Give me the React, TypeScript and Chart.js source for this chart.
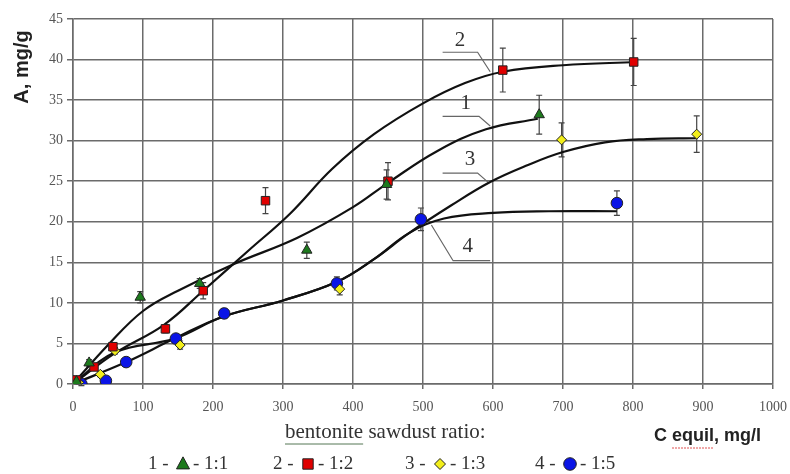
import React, { useEffect, useRef } from "react";
import { Chart, registerables } from "chart.js";

Chart.register(...registerables);

// ---- measured points ----
const s1X = [5, 23, 96, 181, 334, 448, 666];
const s1Y = [0.3, 2.6, 10.7, 12.4, 16.5, 24.6, 33.2];
const s1Err = [0.3, 0.4, 0.7, 0.6, 1.0, 1.8, 2.4];

const s2X = [5, 30, 57, 132, 186, 275, 450, 614, 801];
const s2Y = [0.5, 2.1, 4.6, 6.8, 11.5, 22.6, 25.0, 38.7, 39.7];
const s2Err = [0.3, 0.4, 0.5, 0.5, 1.0, 1.6, 2.3, 2.7, 2.9];

const s3X = [8, 39, 60, 153, 381, 698, 891];
const s3Y = [0.2, 1.2, 4.1, 4.8, 11.7, 30.1, 30.8];
const s3Err = [0.2, 0.3, 0.4, 0.5, 0.7, 2.1, 2.25];

const s4X = [12, 47, 76, 147, 216, 377, 497, 777];
const s4Y = [0.0, 0.4, 2.7, 5.6, 8.7, 12.4, 20.3, 22.3];
const s4Err = [0.2, 0.3, 0.4, 0.5, 0.6, 0.8, 1.4, 1.5];

// ---- fitted curves ----
const c1X = [0, 50, 100, 150, 230, 320, 400, 450, 520, 590, 664];
const c1Y = [0, 4.8, 9.0, 11.5, 14.8, 18.0, 21.8, 24.8, 28.7, 31.4, 32.7];

const c2X = [0, 60, 130, 186, 250, 310, 370, 430, 500, 560, 614, 700, 805];
const c2Y = [0, 3.8, 7.3, 11.5, 16.4, 21.0, 26.5, 30.8, 34.6, 37.1, 38.5, 39.3, 39.7];

const c3X = [0, 60, 145, 214, 300, 377, 430, 480, 540, 596, 650, 700, 760, 820, 891];
const c3Y = [0, 3.9, 5.6, 8.3, 10.3, 12.6, 15.4, 18.6, 22.0, 24.9, 27.0, 28.6, 29.8, 30.2, 30.3];

const c4X = [0, 76, 145, 214, 300, 377, 430, 480, 530, 600, 680, 777];
const c4Y = [0, 2.7, 5.6, 8.3, 10.3, 12.6, 15.4, 18.6, 20.4, 21.1, 21.3, 21.3];

// ---- curve labels and leader lines ----
const curveLabels = ["1", "2", "3", "4"];
const labelX = [561, 553, 567, 564];
const labelY = [34.6, 42.3, 27.7, 16.9];
const leader1X = [528, 580, 596];
const leader1Y = [33.0, 33.0, 31.8];
const leader2X = [528, 578, 596];
const leader2Y = [40.9, 40.9, 38.5];
const leader3X = [528, 578, 594];
const leader3Y = [26.0, 26.0, 24.8];
const leader4X = [512, 543, 596];
const leader4Y = [19.6, 15.2, 15.2];

// ---- axes / legend text ----
const xTicks = [0, 100, 200, 300, 400, 500, 600, 700, 800, 900, 1000];
const yTicks = [0, 5, 10, 15, 20, 25, 30, 35, 40, 45];
const yTitle = "A, mg/g";
const xTitle = "C equil, mg/l";
const legendCaption = "bentonite sawdust ratio:";
const legendNums = ["1", "2", "3", "4"];
const legendRatios = ["1:1", "1:2", "1:3", "1:5"];

const colors = ["#1d7a1d", "#e00000", "#f2ee1a", "#0a14e6"];
const shapes = ["triangle", "rect", "rectRot", "circle"];
const radii = [6, 6, 5, 5.8];

const zip = (xs: number[], ys: number[]) => xs.map((x, i) => ({ x, y: ys[i] }));

function drawShape(ctx: CanvasRenderingContext2D, shape: string, x: number, y: number, r: number, fill: string) {
  ctx.save();
  ctx.fillStyle = fill;
  ctx.strokeStyle = "#222";
  ctx.lineWidth = 1;
  ctx.beginPath();
  if (shape === "triangle") {
    ctx.moveTo(x, y - r * 1.1);
    ctx.lineTo(x + r, y + r * 0.75);
    ctx.lineTo(x - r, y + r * 0.75);
    ctx.closePath();
  } else if (shape === "rect") {
    ctx.rect(x - r * 0.8, y - r * 0.8, r * 1.6, r * 1.6);
  } else if (shape === "rectRot") {
    ctx.moveTo(x, y - r);
    ctx.lineTo(x + r, y);
    ctx.lineTo(x, y + r);
    ctx.lineTo(x - r, y);
    ctx.closePath();
  } else {
    ctx.arc(x, y, r, 0, Math.PI * 2);
  }
  ctx.fill();
  ctx.stroke();
  ctx.restore();
}

export default function App() {
  const ref = useRef<HTMLCanvasElement | null>(null);

  useEffect(() => {
    if (!ref.current) return;
    const errs = [s1Err, s2Err, s3Err, s4Err];

    const errorBars = {
      id: "errorBars",
      beforeDatasetsDraw(chart: any) {
        const { ctx, scales } = chart;
        ctx.save();
        ctx.strokeStyle = "#444";
        ctx.lineWidth = 1.2;
        chart.data.datasets.forEach((ds: any) => {
          if (ds.errIndex === undefined) return;
          const e = errs[ds.errIndex];
          ds.data.forEach((p: any, i: number) => {
            const px = scales.x.getPixelForValue(p.x);
            const top = scales.y.getPixelForValue(p.y + e[i]);
            const bot = scales.y.getPixelForValue(p.y - e[i]);
            ctx.beginPath();
            ctx.moveTo(px, top);
            ctx.lineTo(px, bot);
            ctx.moveTo(px - 3, top);
            ctx.lineTo(px + 3, top);
            ctx.moveTo(px - 3, bot);
            ctx.lineTo(px + 3, bot);
            ctx.stroke();
          });
        });
        ctx.restore();
      },
    };

    const texts = {
      id: "texts",
      afterDraw(chart: any) {
        const { ctx, scales } = chart;
        ctx.save();
        // curve labels
        ctx.fillStyle = "#333";
        ctx.font = "21px 'Liberation Serif'";
        ctx.textAlign = "center";
        ctx.textBaseline = "middle";
        curveLabels.forEach((t, i) => {
          ctx.fillText(t, scales.x.getPixelForValue(labelX[i]), scales.y.getPixelForValue(labelY[i]));
        });
        // y title
        ctx.save();
        ctx.translate(22, 67);
        ctx.rotate(-Math.PI / 2);
        ctx.font = "bold 20px 'Liberation Sans'";
        ctx.fillStyle = "#222";
        ctx.fillText(yTitle, 0, 0);
        ctx.restore();
        // x title
        ctx.textAlign = "left";
        ctx.font = "bold 18px 'Liberation Sans'";
        ctx.fillStyle = "#222";
        ctx.fillText(xTitle, 654, 436);
        const wC = ctx.measureText("C ").width;
        const wE = ctx.measureText("equil").width;
        ctx.strokeStyle = "#e05050";
        ctx.lineWidth = 1;
        ctx.setLineDash([2, 1]);
        ctx.beginPath();
        ctx.moveTo(654 + wC, 448);
        ctx.lineTo(654 + wC + wE, 448);
        ctx.stroke();
        ctx.setLineDash([]);
        // legend caption
        ctx.font = "21px 'Liberation Serif'";
        ctx.fillStyle = "#333";
        ctx.fillText(legendCaption, 285, 432);
        const wB = ctx.measureText("bentonite").width;
        ctx.strokeStyle = "#557755";
        ctx.lineWidth = 1;
        ctx.beginPath();
        ctx.moveTo(285, 444);
        ctx.lineTo(285 + wB, 444);
        ctx.stroke();
        // legend row
        const starts = [148, 273, 405, 535];
        ctx.font = "19px 'Liberation Serif'";
        legendNums.forEach((n, i) => {
          const x = starts[i];
          const y = 464;
          ctx.fillStyle = "#333";
          ctx.fillText(n + " -", x, y);
          drawShape(ctx, shapes[i], x + 35, y, radii[i] + 0.5, colors[i]);
          ctx.fillStyle = "#333";
          ctx.fillText("- " + legendRatios[i], x + 45, y);
        });
        ctx.restore();
      },
    };

    const curve = (xs: number[], ys: number[]) => ({
      type: "line",
      data: zip(xs, ys),
      borderColor: "#111",
      borderWidth: 2.2,
      pointRadius: 0,
      fill: false,
      tension: 0.4,
      order: 2,
    });
    const leader = (xs: number[], ys: number[]) => ({
      type: "line",
      data: zip(xs, ys),
      borderColor: "#666",
      borderWidth: 1.2,
      pointRadius: 0,
      fill: false,
      tension: 0,
      order: 3,
    });
    const pts = (xs: number[], ys: number[], i: number) => ({
      type: "scatter",
      data: zip(xs, ys),
      showLine: false,
      pointStyle: shapes[i],
      pointRadius: radii[i],
      pointBackgroundColor: colors[i],
      pointBorderColor: "#222",
      pointBorderWidth: 1,
      errIndex: i,
      order: 1,
    });

    const chart = new Chart(ref.current, {
      type: "scatter",
      data: {
        datasets: [
          pts(s1X, s1Y, 0),
          pts(s2X, s2Y, 1),
          pts(s3X, s3Y, 2),
          pts(s4X, s4Y, 3),
          curve(c1X, c1Y),
          curve(c2X, c2Y),
          curve(c3X, c3Y),
          curve(c4X, c4Y),
          leader(leader1X, leader1Y),
          leader(leader2X, leader2Y),
          leader(leader3X, leader3Y),
          leader(leader4X, leader4Y),
        ] as any,
      },
      options: {
        responsive: false,
        animation: false,
        layout: { padding: { top: 19, right: 17, left: 0, bottom: 0 } },
        plugins: { legend: { display: false }, tooltip: { enabled: false } },
        scales: {
          x: {
            type: "linear",
            min: 0,
            max: 1000,
            afterBuildTicks: (s: any) => {
              s.ticks = xTicks.map((v) => ({ value: v }));
            },
            ticks: {
              color: "#555",
              font: { family: "'Liberation Serif'", size: 14 },
              padding: 10,
              maxRotation: 0,
              callback: (v: any) => String(v),
            },
            grid: { color: "#6b6b6b", lineWidth: 1.5, tickLength: 5 },
            border: { color: "#6b6b6b", width: 1.5 },
            afterFit: (s: any) => {
              s.height = 90;
              s.paddingLeft = 0;
              s.paddingRight = 0;
            },
          },
          y: {
            type: "linear",
            min: 0,
            max: 45,
            afterBuildTicks: (s: any) => {
              s.ticks = yTicks.map((v) => ({ value: v }));
            },
            ticks: {
              color: "#555",
              font: { family: "'Liberation Serif'", size: 14 },
              padding: 4,
              callback: (v: any) => String(v),
            },
            grid: { color: "#6b6b6b", lineWidth: 1.5, tickLength: 6 },
            border: { color: "#6b6b6b", width: 1.5 },
            afterFit: (s: any) => {
              s.width = 73;
              s.paddingTop = 0;
              s.paddingBottom = 0;
            },
          },
        },
      } as any,
      plugins: [errorBars, texts],
    });
    return () => chart.destroy();
  }, []);

  return (
    <div style={{ position: "absolute", left: 0, top: 0, width: 790, height: 474, background: "#fff" }}>
      <canvas ref={ref} width={790} height={474} />
    </div>
  );
}
